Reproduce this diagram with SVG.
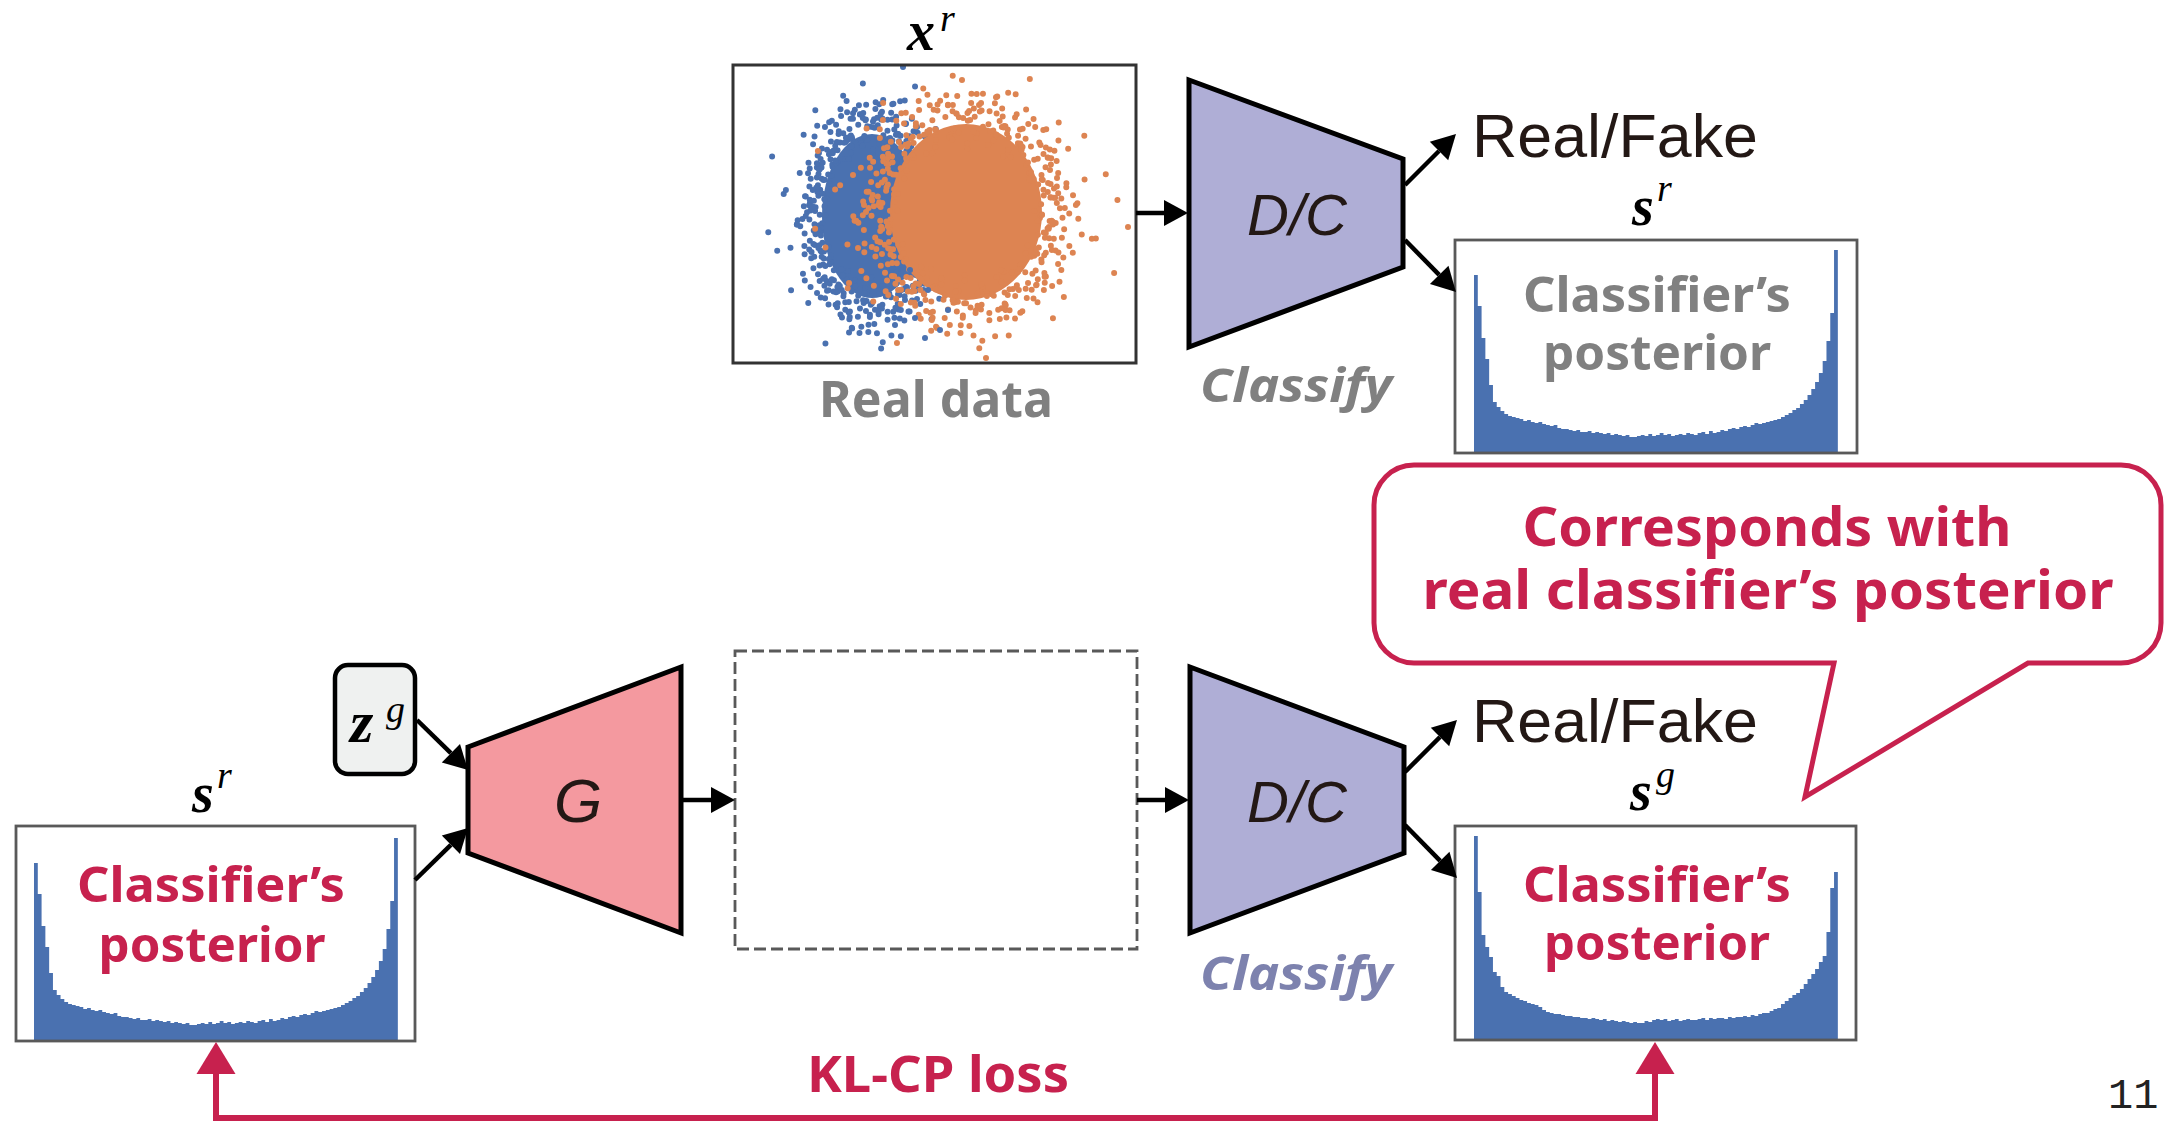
<svg xmlns="http://www.w3.org/2000/svg" width="2170" height="1121" viewBox="0 0 2170 1121">
<style>
.sans{font-family:"Liberation Sans",Arial,sans-serif}
.bold{font-family:"Noto Sans","Open Sans",sans-serif;font-weight:700}
.math{font-family:"Liberation Serif","DejaVu Serif",serif;font-style:italic}
.mb{font-weight:700}
.gray{fill:#808080}
.crim{fill:#c7214e}
.ink{fill:#231815}
.hbox{fill:none;stroke:#595959;stroke-width:2.8}
.bars{fill:#4a71b0}
.net{stroke:#000;stroke-width:5;stroke-linejoin:miter}
.arr{fill:none;stroke:#000;stroke-width:4.5;marker-end:url(#ah)}
.dots{fill:none;stroke-width:6;stroke-linecap:round}
</style>
<defs>
  <marker id="ah" markerUnits="userSpaceOnUse" markerWidth="26" markerHeight="28" refX="0" refY="13" orient="auto" overflow="visible">
    <path d="M0 0L24 13L0 26Z" fill="#000"/>
  </marker>
  <marker id="rh" markerUnits="userSpaceOnUse" markerWidth="34" markerHeight="40" refX="0" refY="19.5" orient="auto-start-reverse" overflow="visible">
    <path d="M0 0L32 19.5L0 39Z" fill="#c7214e"/>
  </marker>
  <clipPath id="plotclip"><rect x="734" y="66" width="401" height="297"/></clipPath>
  <!-- wide spread of samples around a unit cluster (outliers) -->
  <path id="ring" vector-effect="non-scaling-stroke" d="M.949 .033h0M1.087 .172h0M1.227 .239h0M.987 .359h0M1.335 .567h0M.771 .464h0M.942 .66h0M1.223 1.181h0M.682 .731h0M.746 1.065h0M.636 1.018h0M.383 .902h0M.505 1.466h0M.206 1.06h0M.166 1.893h0M-.017 .95h0M-.096 1.096h0M-.281 1.218h0M-.307 1.004h0M-.635 1.303h0M-.436 .787h0M-.692 .918h0M-1.159 1.243h0M-.755 .656h0M-1.065 .746h0M-1.05 .582h0M-.902 .383h0M-1.482 .453h0M-1.06 .206h0M-1.886 .232h0M-.95 -.017h0M-1.096 -.096h0M-1.218 -.281h0M-.993 -.342h0M-1.314 -.613h0M-.771 -.464h0M-.918 -.692h0M-1.243 -1.159h0M-.656 -.755h0M-.746 -1.065h0M-.582 -1.05h0M-.383 -.902h0M-.453 -1.482h0M-.206 -1.06h0M-.166 -1.893h0M.017 -.95h0M.134 -1.092h0M.281 -1.218h0M.342 -.993h0M.613 -1.314h0M.464 -.771h0M.692 -.918h0M1.159 -1.243h0M.755 -.656h0M1.065 -.746h0M1.05 -.582h0M.902 -.383h0M1.482 -.453h0M1.06 -.206h0M1.893 -.166h0"/>
  <!-- dense samples close to a unit cluster edge -->
  <path id="edge" vector-effect="non-scaling-stroke" d="M.948 .066h0M1.023 .236h0M1.088 .375h0M.875 .485h0M1.024 .717h0M.627 .673h0M.677 .867h0M.507 1.088h0M.278 .908h0M.2 1.031h0M-.04 1.149h0M-.139 .99h0M-.428 1.175h0M-.403 .827h0M-.662 .878h0M-.834 .863h0M-.788 .531h0M-.927 .493h0M-1.1 .336h0M-.985 .174h0M-1.249 -.044h0M-.913 -.112h0M-1.04 -.358h0M-1.06 -.563h0M-.759 -.572h0M-.755 -.729h0M-.643 -.953h0M-.469 -.883h0M-.365 -1.195h0M-.16 -.906h0M.019 -1.1h0M.167 -1.188h0M.31 -.898h0M.46 -.944h0M.692 -.918h0M.695 -.719h0M1.024 -.717h0M.812 -.432h0M1.052 -.321h0M1.182 -.208h0"/>
  <!-- histogram of the real classifier's posterior, 96 bins -->
  <path id="histR" d="M0 0V-178h3.79V-147h3.79V-115h3.79V-94h3.79V-68h3.79V-51h3.79V-46h3.79V-42h3.79V-39h3.79V-37h3.79V-36h3.79V-35h3.79V-34h3.79V-32h3.79V-33h3.79V-31h3.79V-30h3.79V-31h3.79V-29h3.79V-28h3.79V-27h3.79V-28h3.79V-25h3.79V-24h3.79V-24h3.79V-23h3.79V-22h3.79V-23h3.79V-21h3.79V-21h3.79V-22h3.79V-20h3.79V-21h3.79V-20h3.79V-19h3.79V-20h3.79V-18h3.79V-19h3.79V-18h3.79V-17h3.79V-18h3.79V-16h3.79V-16h3.79V-17h3.79V-18h3.79V-17h3.79V-19h3.79V-17h3.79V-18h3.79V-20h3.79V-18h3.79V-19h3.79V-17h3.79V-18h3.79V-19h3.79V-18h3.79V-20h3.79V-19h3.79V-18h3.79V-20h3.79V-21h3.79V-19h3.79V-22h3.79V-20h3.79V-21h3.79V-23h3.79V-22h3.79V-24h3.79V-25h3.79V-24h3.79V-26h3.79V-27h3.79V-26h3.79V-28h3.79V-30h3.79V-29h3.79V-30h3.79V-31h3.79V-32h3.79V-33h3.79V-34h3.79V-36h3.79V-38h3.79V-40h3.79V-43h3.79V-45h3.79V-49h3.79V-53h3.79V-58h3.79V-64h3.79V-71h3.79V-80h3.79V-92h3.79V-112h3.79V-140h3.79V-203h3.79V0Z"/>
  <!-- histogram of the generated classifier's posterior, 96 bins -->
  <path id="histG" d="M0 0V-204h3.79V-148h3.79V-105h3.79V-93h3.79V-83h3.79V-68h3.79V-64h3.79V-53h3.79V-48h3.79V-46h3.79V-44h3.79V-42h3.79V-40h3.79V-39h3.79V-37h3.79V-36h3.79V-35h3.79V-33h3.79V-30h3.79V-28h3.79V-27h3.79V-26h3.79V-26h3.79V-25h3.79V-24h3.79V-24h3.79V-23h3.79V-23h3.79V-22h3.79V-22h3.79V-21h3.79V-22h3.79V-21h3.79V-20h3.79V-21h3.79V-19h3.79V-20h3.79V-19h3.79V-18h3.79V-19h3.79V-18h3.79V-17h3.79V-18h3.79V-17h3.79V-17h3.79V-19h3.79V-18h3.79V-20h3.79V-21h3.79V-20h3.79V-21h3.79V-19h3.79V-20h3.79V-21h3.79V-19h3.79V-20h3.79V-21h3.79V-20h3.79V-20h3.79V-21h3.79V-22h3.79V-20h3.79V-22h3.79V-21h3.79V-22h3.79V-22h3.79V-21h3.79V-23h3.79V-22h3.79V-23h3.79V-23h3.79V-24h3.79V-23h3.79V-25h3.79V-24h3.79V-26h3.79V-27h3.79V-27h3.79V-29h3.79V-31h3.79V-32h3.79V-36h3.79V-39h3.79V-42h3.79V-45h3.79V-47h3.79V-51h3.79V-56h3.79V-61h3.79V-66h3.79V-71h3.79V-78h3.79V-84h3.79V-108h3.79V-152h3.79V-168h3.79V0Z"/>
</defs>

<rect width="2170" height="1121" fill="#fff"/>

<!-- real data scatter -->
<g id="real-data">
  <text class="math mb" x="907" y="50" font-size="56" fill="#000">x</text>
  <text class="math" x="940" y="31" font-size="38" fill="#000">r</text>
  <rect x="733" y="65" width="403" height="298" fill="#fff"/>
  <g clip-path="url(#plotclip)">
    <!-- class 0 -->
    <ellipse cx="872" cy="216" rx="50" ry="82" fill="#4a71b0"/>
    <g class="dots" stroke="#4a71b0">
      <use href="#edge" transform="translate(872,216) scale(52,86)"/>
      <use href="#edge" transform="translate(872,216) scale(55,90) rotate(23)"/>
      <use href="#edge" transform="translate(872,216) scale(57,94) rotate(51)"/>
      <use href="#edge" transform="translate(872,216) scale(50,83) rotate(77)"/>
      <use href="#edge" transform="translate(872,216) scale(60,99) rotate(110)"/>
      <use href="#edge" transform="translate(872,216) scale(53,88) rotate(145)"/>
      <use href="#edge" transform="translate(872,216) scale(56,93) rotate(200)"/>
      <use href="#edge" transform="translate(872,216) scale(62,102) rotate(260)"/>
      <use href="#ring" transform="translate(872,216) scale(55,70)"/>
      <use href="#ring" transform="translate(872,216) scale(58,74) rotate(120)"/>
      <use href="#ring" transform="translate(872,216) scale(52,68) rotate(240)"/>
    </g>
    <!-- class 1 -->
    <ellipse cx="966" cy="212" rx="76" ry="88" fill="#dd8452"/>
    <g class="dots" stroke="#dd8452">
      <use href="#edge" transform="translate(966,212) scale(78,90)"/>
      <use href="#edge" transform="translate(966,212) scale(82,95) rotate(23)"/>
      <use href="#edge" transform="translate(966,212) scale(86,99) rotate(51)"/>
      <use href="#edge" transform="translate(966,212) scale(76,87) rotate(77)"/>
      <use href="#edge" transform="translate(966,212) scale(90,103) rotate(110)"/>
      <use href="#edge" transform="translate(966,212) scale(80,92) rotate(145)"/>
      <use href="#edge" transform="translate(966,212) scale(84,97) rotate(200)"/>
      <use href="#edge" transform="translate(966,212) scale(94,104) rotate(260)"/>
      <use href="#ring" transform="translate(966,212) scale(80,72)"/>
      <use href="#ring" transform="translate(966,212) scale(86,76) rotate(120)"/>
      <use href="#ring" transform="translate(966,212) scale(76,70) rotate(240)"/>
      <path d="M853 175h0M858 248h0M849 283h0M864 205h0M1128 227h0M962 80h0M986 358h0"/>
    </g>
    <g class="dots" stroke="#4a71b0">
      <path d="M905 300h0M915 318h0M928 290h0M940 330h0M910 270h0M925 338h0M948 310h0M895 325h0M903 67h0"/>
    </g>
  </g>
  <rect x="733" y="65" width="403" height="298" fill="none" stroke="#333" stroke-width="3"/>
  <text class="bold gray" x="936" y="417" font-size="50" text-anchor="middle" textLength="234" lengthAdjust="spacingAndGlyphs">Real data</text>
</g>

<!-- discriminator / classifier (real branch) -->
<g id="dc-real">
  <polygon class="net" points="1189,80 1403,159 1403,267 1189,347" fill="#afaed6"/>
  <text class="sans ink" x="1297" y="235" font-size="58" font-style="italic" text-anchor="middle">D/C</text>
  <text class="bold gray" x="1296" y="402" font-size="46" font-style="italic" text-anchor="middle" textLength="192" lengthAdjust="spacingAndGlyphs">Classify</text>
</g>

<g id="rf-real">
  <text class="sans ink" x="1472" y="157" font-size="62" textLength="286" lengthAdjust="spacingAndGlyphs">Real/Fake</text>
</g>

<!-- real classifier's posterior -->
<g id="posterior-real">
  <text class="math mb" x="1632" y="225" font-size="56" fill="#000">s</text>
  <text class="math" x="1657" y="201" font-size="38" fill="#000">r</text>
  <use href="#histR" class="bars" transform="translate(1474,453)"/>
  <rect class="hbox" x="1455" y="240" width="402" height="213"/>
  <text class="bold gray" x="1657" y="312" font-size="48" text-anchor="middle" textLength="268" lengthAdjust="spacingAndGlyphs">Classifier’s</text>
  <text class="bold gray" x="1657" y="370" font-size="48" text-anchor="middle" textLength="228" lengthAdjust="spacingAndGlyphs">posterior</text>
</g>

<!-- callout -->
<g id="callout">
  <path d="M1414 465H2121A40 40 0 0 1 2161 505V623A40 40 0 0 1 2121 663H2028L1805 797L1834 663H1414A40 40 0 0 1 1374 623V505A40 40 0 0 1 1414 465Z" fill="#fff" stroke="#c7214e" stroke-width="5"/>
  <text class="bold crim" x="1767" y="546" font-size="53" text-anchor="middle" textLength="489" lengthAdjust="spacingAndGlyphs">Corresponds with</text>
  <text class="bold crim" x="1768" y="609" font-size="53" text-anchor="middle" textLength="691" lengthAdjust="spacingAndGlyphs">real classifier’s posterior</text>
</g>

<!-- conditional input for the generator -->
<g id="posterior-input">
  <text class="math mb" x="192" y="812" font-size="56" fill="#000">s</text>
  <text class="math" x="217" y="788" font-size="38" fill="#000">r</text>
  <use href="#histR" class="bars" transform="translate(34,1041)"/>
  <rect class="hbox" x="16" y="826" width="399" height="215"/>
  <text class="bold crim" x="211" y="902" font-size="48" text-anchor="middle" textLength="268" lengthAdjust="spacingAndGlyphs">Classifier’s</text>
  <text class="bold crim" x="212" y="962" font-size="48" text-anchor="middle" textLength="227" lengthAdjust="spacingAndGlyphs">posterior</text>
</g>

<g id="noise">
  <rect x="335" y="665" width="80" height="109" rx="13" fill="#eff1f0" stroke="#000" stroke-width="4.5"/>
  <text class="math mb" x="350" y="742" font-size="60" fill="#000">z</text>
  <text class="math" x="386" y="722" font-size="38" fill="#000">g</text>
</g>

<g id="generator">
  <polygon class="net" points="468,747 681,667 681,933 468,853" fill="#f4999f"/>
  <text class="sans ink" x="578" y="822" font-size="62" font-style="italic" text-anchor="middle">G</text>
</g>

<g id="generated-data">
  <rect x="735" y="651" width="402" height="298" fill="none" stroke="#595959" stroke-width="2.8" stroke-dasharray="12 5"/>
</g>

<!-- discriminator / classifier (generated branch) -->
<g id="dc-gen">
  <polygon class="net" points="1190,667 1404,747 1404,853 1190,933" fill="#afaed6"/>
  <text class="sans ink" x="1297" y="822" font-size="58" font-style="italic" text-anchor="middle">D/C</text>
  <text class="bold" x="1296" y="990" font-size="46" font-style="italic" text-anchor="middle" fill="#7d82ae" textLength="192" lengthAdjust="spacingAndGlyphs">Classify</text>
</g>

<g id="rf-gen">
  <text class="sans ink" x="1472" y="742" font-size="62" textLength="286" lengthAdjust="spacingAndGlyphs">Real/Fake</text>
</g>

<!-- generated classifier's posterior -->
<g id="posterior-gen">
  <text class="math mb" x="1630" y="810" font-size="56" fill="#000">s</text>
  <text class="math" x="1656" y="787" font-size="38" fill="#000">g</text>
  <use href="#histG" class="bars" transform="translate(1474,1040)"/>
  <rect class="hbox" x="1455" y="826" width="401" height="214"/>
  <text class="bold crim" x="1657" y="902" font-size="48" text-anchor="middle" textLength="268" lengthAdjust="spacingAndGlyphs">Classifier’s</text>
  <text class="bold crim" x="1657" y="960" font-size="48" text-anchor="middle" textLength="226" lengthAdjust="spacingAndGlyphs">posterior</text>
</g>

<g id="loss-label">
  <text class="bold crim" x="938" y="1092" font-size="50" text-anchor="middle" textLength="262" lengthAdjust="spacingAndGlyphs">KL-CP loss</text>
</g>

<g id="page-number">
  <text x="2108" y="1108" font-family="'Liberation Mono','DejaVu Sans Mono',monospace" font-size="42" fill="#222">11</text>
</g>

<!-- connectors -->
<g id="connectors">
  <path class="arr" d="M1136 213H1164"/>
  <path class="arr" d="M1405 185L1439 151"/>
  <path class="arr" d="M1405 240L1439.2 274.9"/>
  <path class="arr" d="M417 720L450.9 753.2"/>
  <path class="arr" d="M415 880L450.9 844.8"/>
  <path class="arr" d="M681 800H711"/>
  <path class="arr" d="M1137 800H1165"/>
  <path class="arr" d="M1405 772L1440 737"/>
  <path class="arr" d="M1405 825L1440.2 860.9"/>
  <path d="M216 1074V1118H1655V1074" fill="none" stroke="#c7214e" stroke-width="6" stroke-linejoin="miter" marker-start="url(#rh)" marker-end="url(#rh)"/>
</g>
</svg>
